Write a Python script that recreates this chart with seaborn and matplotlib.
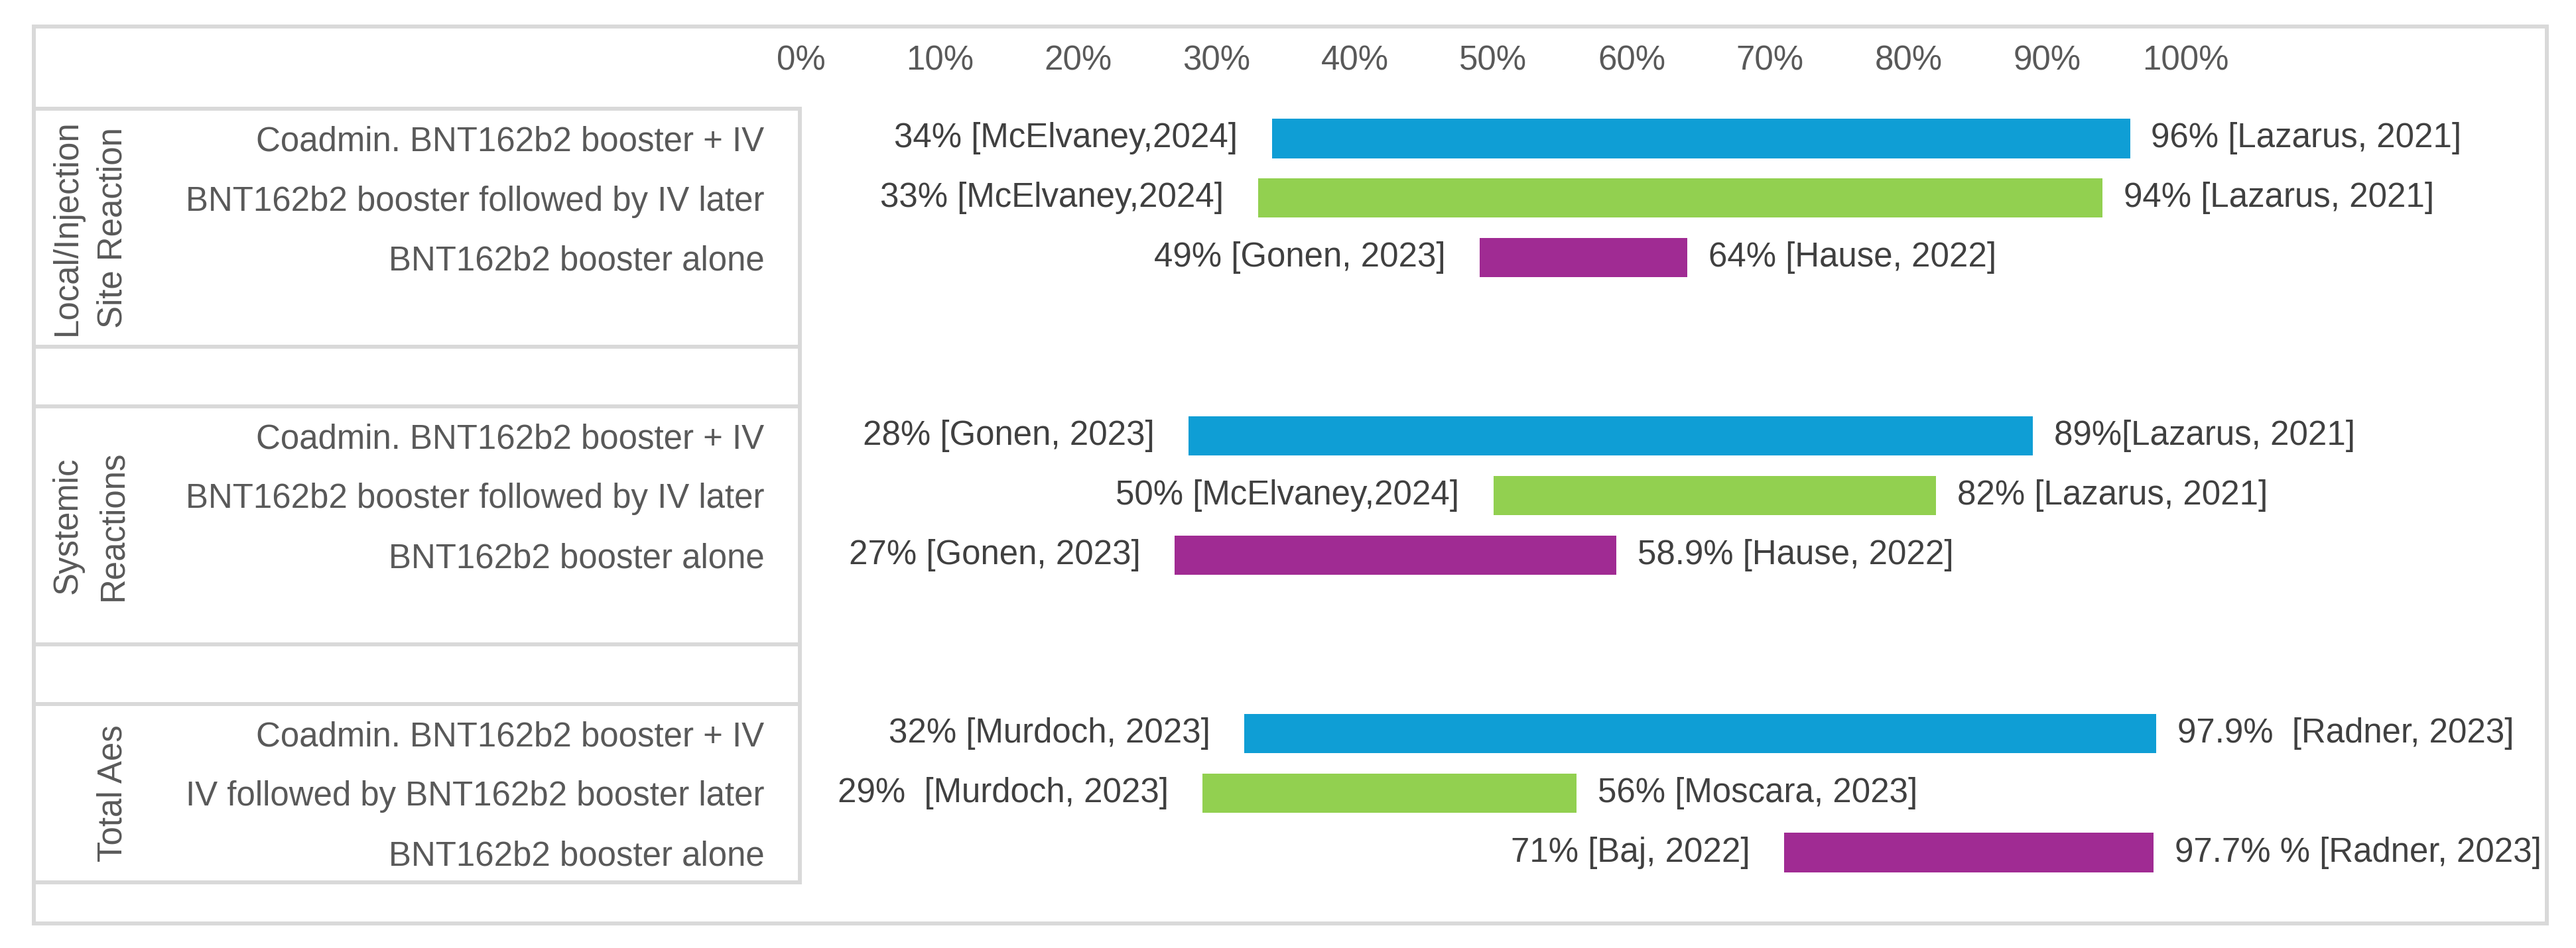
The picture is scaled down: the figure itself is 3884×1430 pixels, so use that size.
"""Range chart of reaction rates for BNT162b2 booster with or without IV."""

import matplotlib

matplotlib.use("Agg")
import matplotlib.pyplot as plt
import pandas as pd
import seaborn as sns
from matplotlib.patches import Rectangle
from matplotlib.transforms import blended_transform_factory

# Data
groups = ["Local/Injection\nSite Reaction", "Systemic\nReactions", "Total Aes"]
arms_by_group = [
    ["Coadmin. BNT162b2 booster + IV", "BNT162b2 booster followed by IV later",
     "BNT162b2 booster alone"],
    ["Coadmin. BNT162b2 booster + IV", "BNT162b2 booster followed by IV later",
     "BNT162b2 booster alone"],
    ["Coadmin. BNT162b2 booster + IV", "IV followed by BNT162b2 booster later",
     "BNT162b2 booster alone"],
]
low_pct = [34, 33, 49, 28, 50, 27, 32, 29, 71]
high_pct = [96, 94, 64, 89, 82, 58.9, 97.9, 56, 97.7]
low_labels = [
    "34% [McElvaney,2024]", "33% [McElvaney,2024]", "49% [Gonen, 2023]",
    "28% [Gonen, 2023]", "50% [McElvaney,2024]", "27% [Gonen, 2023]",
    "32% [Murdoch, 2023]", "29%  [Murdoch, 2023]", "71% [Baj, 2022]",
]
high_labels = [
    "96% [Lazarus, 2021]", "94% [Lazarus, 2021]", "64% [Hause, 2022]",
    "89%[Lazarus, 2021]", "82% [Lazarus, 2021]", "58.9% [Hause, 2022]",
    "97.9%  [Radner, 2023]", "56% [Moscara, 2023]", "97.7% % [Radner, 2023]",
]
x_ticks = [0, 10, 20, 30, 40, 50, 60, 70, 80, 90, 100]
arm_colors = ["#0F9ED5", "#92D050", "#A02B93"]

W, H = 3884, 1430
FS = 36.7
GRID = "#D9D9D9"

sns.set_theme(style="white")
plt.rcParams["font.family"] = ["Liberation Sans", "DejaVu Sans"]

# Build the category rows (with blank spacer rows like the Excel original)
order, row_labels, records, boxes = [], [], [], []
k = 0
for g, arms in enumerate(arms_by_group):
    first = len(order)
    for a, arm in enumerate(arms):
        key = f"g{g}a{a}"
        order.append(key)
        row_labels.append(arm)
        records.append(dict(row=key, arm=a, group=g, start=low_pct[k],
                            end=high_pct[k], low_label=low_labels[k],
                            high_label=high_labels[k]))
        k += 1
    if g < len(arms_by_group) - 1:
        order.append(f"g{g}pad")
        row_labels.append("")
        boxes.append((first, len(order) - 1, g))
        order.append(f"g{g}gap")
        row_labels.append("")
        boxes.append((len(order) - 1, len(order) - 1, None))
    else:
        boxes.append((first, len(order) - 1, g))

df = pd.DataFrame(records)
df["span"] = df["end"] - df["start"]
df["pos"] = df["row"].map({key: i for i, key in enumerate(order)})

fig = plt.figure(figsize=(W / 100, H / 100), dpi=100, facecolor="white")
ax_left, ax_right, ax_top, ax_bottom = 1208, 3830, 164, 1331
ax = fig.add_axes([ax_left / W, (H - ax_bottom) / H,
                   (ax_right - ax_left) / W, (ax_bottom - ax_top) / H])

for a, color in enumerate(arm_colors):
    sub = df[df["arm"] == a].sort_values("pos")
    sns.barplot(data=sub, x="span", y="row", order=order, orient="h",
                color=color, saturation=1, width=0.66, errorbar=None,
                left=sub["start"].to_numpy(), linewidth=0, edgecolor="none",
                ax=ax)

px_per_pct = (3295 - 1208) / 100
ax.set_xlim(0, (ax_right - ax_left) / px_per_pct)
ax.set_xticks(x_ticks, [f"{t}%" for t in x_ticks])
ax.set_yticks(range(len(order)), row_labels)
ax.set_xlabel("")
ax.set_ylabel("")
ax.tick_params(axis="x", top=True, bottom=False, labeltop=True,
               labelbottom=False, length=0, pad=34, labelsize=FS,
               labelcolor="#595959")
ax.tick_params(axis="y", length=0, pad=40, labelsize=FS, labelcolor="#595959")
ax.grid(False)
sns.despine(ax=ax, left=True, bottom=True)

# Data labels either side of each bar
for _, r in df.iterrows():
    ax.annotate(r["low_label"], xy=(r["start"], r["pos"]), xytext=(-37, 0),
                textcoords="offset points", ha="right", va="center",
                fontsize=FS, color="#404040")
    ax.annotate(r["high_label"], xy=(r["end"], r["pos"]), xytext=(23, 0),
                textcoords="offset points", ha="left", va="center",
                fontsize=FS, color="#404040")

# Table boxes and group labels on the left
trans = blended_transform_factory(fig.transFigure, ax.transData)
for first, last, g in boxes:
    box = Rectangle((51 / W, first - 0.5), (1206 - 51) / W, last - first + 1,
                    transform=trans, fill=False, edgecolor=GRID, linewidth=4.3,
                    clip_on=False)
    ax.add_patch(box)
    if g is not None:
        ax.text(195 / W, (first + last) / 2, groups[g], transform=trans,
                rotation=90, ha="right", va="center", multialignment="center",
                linespacing=1.52, fontsize=FS, color="#595959", clip_on=False)

# Chart area border
fig.add_artist(Rectangle((51 / W, (H - 1393) / H), (3840 - 51) / W,
                         (1393 - 40) / H, transform=fig.transFigure,
                         fill=False, edgecolor=GRID, linewidth=4.3))

fig.savefig("out.png", dpi=100, facecolor="white")
plt.close(fig)
